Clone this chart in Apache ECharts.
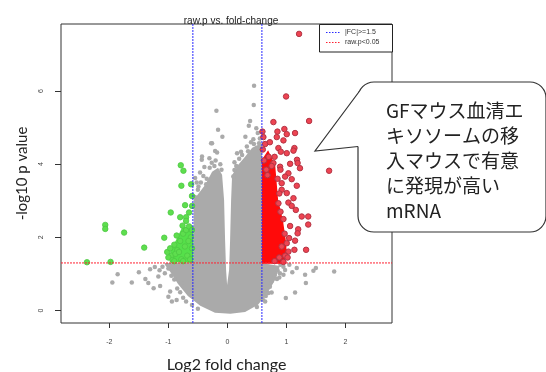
<!DOCTYPE html>
<html>
<head>
<meta charset="utf-8">
<script src="https://cdn.jsdelivr.net/npm/echarts@6/dist/echarts.min.js"></script>
<style>
  html, body { margin: 0; padding: 0; background: #fff; }
  #chart { width: 546px; height: 372px; }
</style>
</head>
<body>
<div id="chart"></div>
<script>
// axis limits, ticks and cut-offs
const xLimits = [-2.82, 2.79];
const yLimits = [-0.34, 7.83];
const xTicks = [-2, -1, 0, 1, 2];
const yTicks = [0, 2, 4, 6];
const fcCuts = [-0.585, 0.585];   // |log2 FC| >= log2(1.5)
const pCuts = [1.301];            // -log10(0.05)

// dense grey body of the volcano (outline)
const greyCore = [
  [-0.573, 3.02], [-0.378, 3.43], [-0.259, 3.79], [-0.158, 3.90], [-0.09, 3.71],
  [-0.056, 3.02], [-0.039, 1.93], [-0.022, 1.11], [-0.005, 0.70], [0.029, 1.11],
  [0.046, 1.93], [0.063, 3.02], [0.08, 3.70], [0.18, 3.98], [0.30, 4.20], [0.42, 4.45],
  [0.585, 4.58], [0.585, 1.30], [0.89, 1.22], [0.81, 0.84], [0.69, 0.51], [0.52, 0.16],
  [0.30, -0.04], [0.05, -0.09], [-0.21, -0.06], [-0.46, 0.13], [-0.67, 0.40],
  [-0.84, 0.73], [-0.97, 1.06], [-1.06, 1.25], [-1.06, 1.30], [-0.573, 1.30]
];
const redCore = [
  [0.585, 4.12], [0.69, 4.38], [0.81, 3.98], [0.86, 3.02], [0.94, 2.48],
  [0.99, 1.93], [1.01, 1.52], [0.93, 1.28], [0.585, 1.28]
];
const greenCore = [
  [-0.573, 2.31], [-0.77, 2.26], [-0.87, 1.93], [-0.97, 1.62], [-0.96, 1.32], [-0.573, 1.30]
];

const greyPoints = [
  [0.452, 6.14], [0.447, 5.62], [-0.186, 5.46], [0.385, 5.18], [-0.158, 4.94], [-0.085, 4.75],
  [0.363, 5.05], [0.305, 4.75], [0.44, 4.68], [-0.276, 4.57], [-0.208, 4.36], [-0.175, 4.32],
  [-0.305, 4.16], [-0.434, 4.12], [-0.265, 4.04], [-0.39, 3.92], [-0.463, 3.77], [0.164, 4.30],
  [0.232, 4.34], [0.12, 3.84], [0.10, 3.66], [-0.407, 3.68], [-0.547, 3.62], [-0.49, 3.39],
  [0.33, 4.48], [0.50, 4.44], [0.537, 4.57], [0.515, 4.85], [0.49, 4.98], [-0.43, 4.21],
  [-0.26, 4.57], [-0.5, 3.3], [-0.45, 3.5], [-0.35, 3.6], [-0.3, 3.9], [-0.2, 4.1], [-0.12, 4.0],
  [-0.1, 3.85], [0.12, 4.05], [0.2, 4.15], [0.35, 4.35], [0.45, 4.55], [0.55, 4.7], [0.4, 4.6],
  [0.25, 4.25], [0.15, 3.95], [-0.36, 3.45], [-0.22, 3.95], [-0.55, 3.1], [-0.52, 3.5],
  [-1.86, 0.99], [-1.95, 0.77], [-1.62, 0.77], [-1.50, 1.05], [-1.39, 0.86], [-1.34, 0.75],
  [-1.25, 0.61], [-1.14, 0.67], [-1.17, 0.93], [-1.31, 1.13], [-1.23, 1.19], [-1.06, 1.02],
  [-1.0, 0.38], [-0.94, 0.25], [-0.97, 0.52], [-0.86, 0.29], [-1.1, 1.2], [-1.0, 1.15],
  [-0.95, 0.95], [-0.9, 0.85], [-0.85, 0.6], [-0.8, 0.5], [-0.75, 0.35], [-0.7, 0.25],
  [-0.6, 0.15], [-0.5, 0.05], [-1.15, 1.1], [-0.9, 1.1], [-0.78, 0.75],
  [1.176, 1.16], [1.317, 0.98], [1.458, 1.09], [1.50, 1.16], [1.81, 1.07], [1.33, 0.75],
  [1.147, 0.49], [0.99, 0.34], [0.75, 0.49], [0.695, 0.48], [0.95, 0.98], [0.978, 1.11],
  [0.89, 1.02], [0.84, 0.86], [0.64, 0.25], [0.58, 0.34], [0.9, 1.25], [0.85, 1.1], [0.8, 0.95],
  [0.75, 0.8], [0.72, 0.65], [0.65, 0.4], [0.6, 0.3], [0.5, 0.1], [0.95, 1.2], [0.88, 0.9],
  [1.05, 1.25], [1.1, 1.05]
];

const redPoints = [
  [1.215, 7.56], [0.995, 5.85], [1.385, 5.18], [0.78, 5.15], [0.966, 4.96], [0.848, 4.89],
  [1.006, 4.82], [1.147, 4.85], [0.837, 4.74], [0.95, 4.65], [0.594, 4.89], [0.61, 4.74],
  [0.64, 4.55], [0.865, 4.44], [1.136, 4.44], [1.12, 4.37], [0.905, 4.34], [1.006, 4.30],
  [1.18, 4.12], [1.19, 4.03], [1.23, 3.89], [0.893, 3.93], [0.78, 4.03], [1.063, 4.01],
  [1.034, 3.75], [0.978, 3.66], [1.09, 3.59], [0.92, 3.48], [1.176, 3.41], [0.92, 3.30],
  [1.006, 3.21], [1.12, 3.07], [0.865, 2.93], [1.034, 2.95], [1.09, 2.86], [1.16, 2.75],
  [1.26, 2.57], [1.37, 2.57], [1.37, 2.35], [1.063, 2.31], [1.20, 2.22], [1.19, 2.11],
  [1.046, 1.98], [1.147, 1.91], [1.006, 1.84], [1.334, 1.66], [1.136, 1.66], [1.034, 1.61],
  [1.724, 3.82], [0.70, 4.2], [0.75, 3.95], [0.66, 3.85], [0.85, 3.6], [0.88, 3.2], [0.9, 2.7],
  [0.95, 2.5], [0.97, 2.1], [0.92, 1.75], [0.98, 1.5], [0.88, 1.45], [0.8, 1.35], [0.95, 1.33],
  [1.02, 1.45], [0.9, 3.85], [0.8, 4.2], [0.72, 4.6], [0.6, 4.4], [0.62, 4.1], [0.68, 3.7]
];

const greenPoints = [
  [-0.79, 3.97], [-0.745, 3.82], [-0.78, 3.41], [-0.615, 3.45], [-0.60, 3.13], [-0.717, 2.88],
  [-0.598, 2.86], [-0.96, 2.68], [-0.65, 2.68], [-0.80, 2.55], [-0.70, 2.55], [-2.07, 2.34],
  [-2.07, 2.23], [-1.75, 2.13], [-1.07, 1.99], [-1.41, 1.72], [-2.38, 1.32], [-1.98, 1.33],
  [-0.9, 1.8], [-0.85, 1.65], [-0.95, 1.5], [-1.0, 1.45], [-0.93, 1.38], [-0.88, 1.55],
  [-0.8, 1.9], [-0.75, 2.1], [-0.7, 2.2], [-0.65, 2.3], [-0.62, 2.0], [-0.6, 1.7], [-0.68, 1.5],
  [-0.78, 1.4], [-0.72, 1.75], [-0.82, 1.6], [-0.66, 1.9], [-0.6, 2.2], [-0.75, 1.35],
  [-0.63, 1.4], [-0.9, 1.35], [-1.02, 1.6], [-0.7, 2.45], [-0.76, 2.32], [-0.86, 2.05], [-0.97, 1.7]
];

const calloutLines = ['GFマウス血清エ', 'キソソームの移', '入マウスで有意', 'に発現が高い', 'mRNA'];

const tickFont = 'Liberation Sans, Arial, sans-serif';
const nameFont = 'Lato, Carlito, sans-serif';
const blueCut = '#2a2aff';
const redCut = '#ff2030';

function polygonSeries(name, points, color, z) {
  return {
    name: name,
    type: 'custom',
    coordinateSystem: 'cartesian2d',
    data: [[0, 0]],
    silent: true,
    z: z,
    renderItem: (params, api) => ({
      type: 'polygon',
      shape: { points: points.map((p) => api.coord(p)) },
      style: { fill: color }
    })
  };
}

// one dotted line series per cut-off, spanning the axis limits
function cutLine(name, a, b, color) {
  return {
    name: name,
    type: 'line',
    data: [a, b],
    symbol: 'none',
    silent: true,
    animation: false,
    z: 8,
    itemStyle: { color: color },
    lineStyle: { color: color, width: 1, type: [2, 1], opacity: 1 },
    emphasis: { disabled: true }
  };
}

const cutSeries = [
  ...fcCuts.map((v) => cutLine('|FC|>=1.5', [v, yLimits[0]], [v, yLimits[1]], blueCut)),
  ...pCuts.map((v) => cutLine('raw.p<0.05', [xLimits[0], v], [xLimits[1], v], redCut))
];

const chart = echarts.init(document.getElementById('chart'), null, { renderer: 'canvas' });

chart.setOption({
  animation: false,
  title: {
    text: 'raw.p vs. fold-change',
    left: 226,
    top: 11,
    textAlign: 'center',
    textStyle: { fontFamily: tickFont, fontSize: 10, fontWeight: 'normal', color: '#222' }
  },
  grid: {
    left: 61, right: 154, top: 24, bottom: 49,
    outerBoundsMode: 'none',
    containLabel: false,
    show: true, borderColor: '#333', borderWidth: 1, backgroundColor: 'transparent'
  },
  xAxis: {
    type: 'value',
    min: xLimits[0],
    max: xLimits[1],
    name: 'Log2 fold change',
    nameLocation: 'middle',
    nameGap: 34,
    nameTextStyle: { fontFamily: nameFont, fontSize: 16, color: '#222' },
    axisLine: { show: false, onZero: false },
    splitLine: { show: false },
    axisTick: { show: true, length: 5, customValues: xTicks, lineStyle: { color: '#333' } },
    axisLabel: { customValues: xTicks, margin: 16, fontSize: 7, fontFamily: tickFont, color: '#444' }
  },
  yAxis: {
    type: 'value',
    min: yLimits[0],
    max: yLimits[1],
    name: '-log10 p value',
    nameLocation: 'middle',
    nameGap: 31,
    nameTextStyle: { fontFamily: nameFont, fontSize: 15, color: '#222' },
    axisLine: { show: false, onZero: false },
    splitLine: { show: false },
    axisTick: { show: true, length: 6, customValues: yTicks, lineStyle: { color: '#333' } },
    axisLabel: { customValues: yTicks, rotate: 90, margin: 16, fontSize: 7, fontFamily: tickFont, color: '#444' }
  },
  series: [
    polygonSeries('grey core', greyCore, '#aaaaaa', 1),
    {
      name: 'not significant',
      type: 'scatter',
      data: greyPoints,
      symbolSize: 4.5,
      z: 2,
      itemStyle: { color: '#aaaaaa', opacity: 1 }
    },
    polygonSeries('green core', greenCore, '#55e04a', 3),
    {
      name: 'down',
      type: 'scatter',
      data: greenPoints,
      symbolSize: 5.5,
      z: 4,
      itemStyle: { color: '#5ede4e', borderColor: '#4cc842', borderWidth: 0.8, opacity: 1 }
    },
    polygonSeries('red core', redCore, '#ff0a0a', 3),
    {
      name: 'up',
      type: 'scatter',
      data: redPoints,
      symbolSize: 5.5,
      z: 4,
      itemStyle: { color: '#ee4452', borderColor: '#b23444', borderWidth: 1, opacity: 1 }
    },
    ...cutSeries
  ],
  graphic: [
    // legend box
    { type: 'rect', z: 10, shape: { x: 319.5, y: 24.5, width: 73, height: 27.5 }, style: { fill: '#fff', stroke: '#222', lineWidth: 1 } },
    { type: 'line', z: 11, shape: { x1: 326, y1: 32.5, x2: 340, y2: 32.5 }, style: { stroke: blueCut, lineWidth: 1, lineDash: [1.5, 1.5] } },
    { type: 'line', z: 11, shape: { x1: 326, y1: 42.5, x2: 340, y2: 42.5 }, style: { stroke: redCut, lineWidth: 1, lineDash: [1.5, 1.5] } },
    { type: 'text', z: 11, x: 345, y: 32.5, style: { text: '|FC|>=1.5', fontSize: 7, fontFamily: tickFont, fill: '#333', verticalAlign: 'middle', textVerticalAlign: 'middle' } },
    { type: 'text', z: 11, x: 345, y: 42.5, style: { text: 'raw.p<0.05', fontSize: 7, fontFamily: tickFont, fill: '#333', verticalAlign: 'middle', textVerticalAlign: 'middle' } },
    // speech bubble: rounded box, white patch over its edge, then the tail edges
    { type: 'rect', z: 20, shape: { x: 358, y: 82, width: 188, height: 150, r: 16 }, style: { fill: '#fff', stroke: '#333', lineWidth: 1.2 } },
    { type: 'polygon', z: 21, shape: { points: [[359.6, 91], [315, 151], [358, 146.5], [360.5, 146.5], [360.5, 91]] }, style: { fill: '#fff', lineWidth: 0 } },
    { type: 'polyline', z: 22, shape: { points: [[359.6, 91], [315, 151], [358, 146.5]] }, style: { fill: 'none', stroke: '#333', lineWidth: 1.2 } },
    {
      type: 'text', z: 23, x: 386, y: 98,
      style: {
        text: calloutLines.join('\n'),
        fontSize: 19,
        lineHeight: 25,
        fontFamily: 'Noto Sans CJK JP, Noto Sans, sans-serif',
        fill: '#222'
      }
    }
  ]
});
</script>
</body>
</html>
